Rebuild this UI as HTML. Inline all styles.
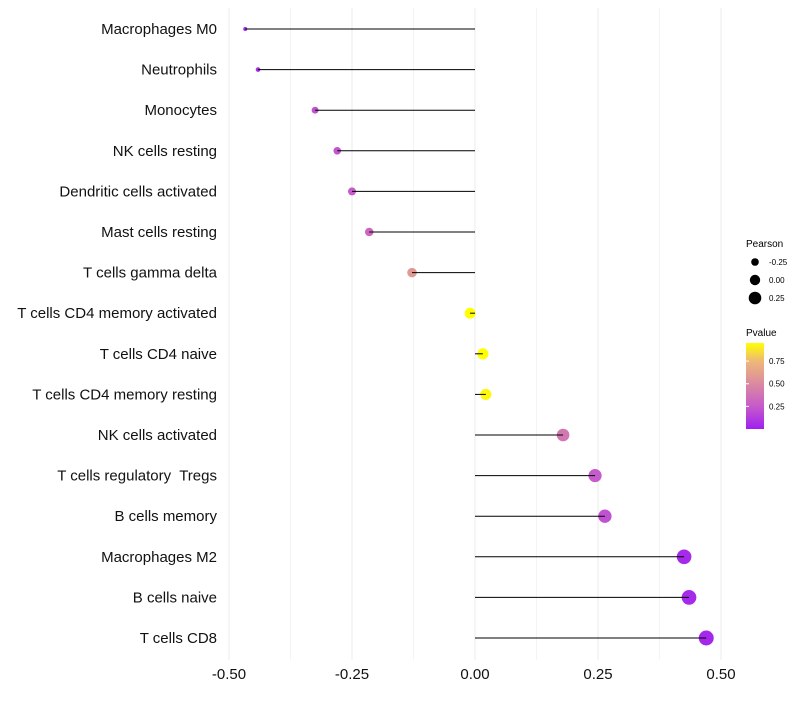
<!DOCTYPE html>
<html><head><meta charset="utf-8"><style>
body{margin:0;background:#fff;font-family:"Liberation Sans",sans-serif}
</style></head><body>
<svg id="chart" width="800" height="700" xmlns="http://www.w3.org/2000/svg" font-family="Liberation Sans, sans-serif">
<g id="grid"></g>
<g id="marks"></g>
<g id="ylabels"></g>
<g id="xlabels"></g>
<g id="legend">
<text x="746" y="247" font-size="10">Pearson</text>
<defs><linearGradient id="pg" x1="0" y1="1" x2="0" y2="0">
<stop offset="0" stop-color="#A020F0"/><stop offset="0.263" stop-color="#C65ACB"/><stop offset="0.526" stop-color="#DB8AA0"/><stop offset="0.789" stop-color="#EEB878"/><stop offset="1" stop-color="#FFFF00"/></linearGradient></defs>
<text x="746" y="336" font-size="10">Pvalue</text>
<rect x="746" y="343" width="18" height="86" fill="url(#pg)"/>
</g>
</svg>
<script>
const categories=["Macrophages M0","Neutrophils","Monocytes","NK cells resting","Dendritic cells activated","Mast cells resting","T cells gamma delta","T cells CD4 memory activated","T cells CD4 naive","T cells CD4 memory resting","NK cells activated","T cells regulatory  Tregs","B cells memory","Macrophages M2","B cells naive","T cells CD8"];
const pearson=[-0.467,-0.441,-0.325,-0.280,-0.250,-0.215,-0.128,-0.010,0.016,0.022,0.179,0.244,0.264,0.425,0.435,0.470];
const pvalue=[0.03,0.05,0.2,0.22,0.24,0.3,0.55,0.95,0.95,0.93,0.38,0.24,0.2,0.04,0.04,0.03];
const xTicks=[-0.5,-0.25,0,0.25,0.5];
const xTickLabels=["-0.50","-0.25","0.00","0.25","0.50"];
const sizeLegend=[-0.25,0,0.25];
const colorLegend=[0.25,0.5,0.75];
const NS="http://www.w3.org/2000/svg";
const x=v=>475+v*492;
const y=i=>29+i*40.6;
const r=v=>Math.sqrt(Math.max(2.5,29.9+55.5*v));
const stops=[[160,32,240],[198,90,203],[219,138,160],[238,184,120],[255,255,0]];
const col=p=>{const t=Math.min(1,Math.max(0,p/0.95))*4;const k=Math.min(3,Math.floor(t)),f=t-k;const a=stops[k],b=stops[k+1];return `rgb(${a.map((c,j)=>Math.round(c+(b[j]-c)*f)).join(",")})`;};
const cy=p=>429-p/0.95*86;
function mk(tag,attrs,parent){const e=document.createElementNS(NS,tag);for(const k in attrs)e.setAttribute(k,attrs[k]);parent.appendChild(e);return e;}
const grid=document.getElementById('grid'),marks=document.getElementById('marks'),yl=document.getElementById('ylabels'),xl=document.getElementById('xlabels'),lg=document.getElementById('legend');
for(let i=0;i<xTicks.length;i++){
  let g=mk('line',{x1:x(xTicks[i]),x2:x(xTicks[i]),y1:8,y2:660,stroke:'#ebebeb','stroke-width':1},grid);
  
  
  if(i<xTicks.length-1){let m=mk('line',{x1:x((xTicks[i]+xTicks[i+1])/2),x2:x((xTicks[i]+xTicks[i+1])/2),y1:8,y2:660,stroke:'#f4f4f4','stroke-width':1},grid);
  
  }
  let t=mk('text',{x:x(xTicks[i]),y:679,'font-size':15,'text-anchor':'middle',fill:'#111'},xl);t.textContent=xTickLabels[i];
  
  
}
categories.forEach((c,i)=>{
  let t=mk('text',{x:217,y:y(i)+5,'font-size':15,'text-anchor':'end',fill:'#111',style:'white-space:pre'},yl);t.textContent=c;
  
  
  let p=mk('circle',{cx:x(pearson[i]),cy:y(i),r:r(pearson[i]),fill:col(pvalue[i])},marks);
  
  
  let l=mk('line',{x1:x(0),x2:x(pearson[i]),y1:y(i),y2:y(i),stroke:'#000','stroke-width':1},marks);
  
  
});
sizeLegend.forEach((v,i)=>{
  let c=mk('circle',{cx:755,cy:262+i*18,r:r(v)*0.95,fill:'#000'},lg);
  
  
  let t=mk('text',{x:769,y:265+i*18,'font-size':8},lg);t.textContent=v===0?"0.00":v.toFixed(2);
  
  
});
colorLegend.forEach(v=>{
  let tk=mk('line',{x1:746,x2:749,y1:cy(v),y2:cy(v),stroke:'#fff'},lg);
  
  
  let t=mk('text',{x:769,y:cy(v)+3,'font-size':8},lg);t.textContent=v.toFixed(2);
  
  
});
</script>
</body></html>
